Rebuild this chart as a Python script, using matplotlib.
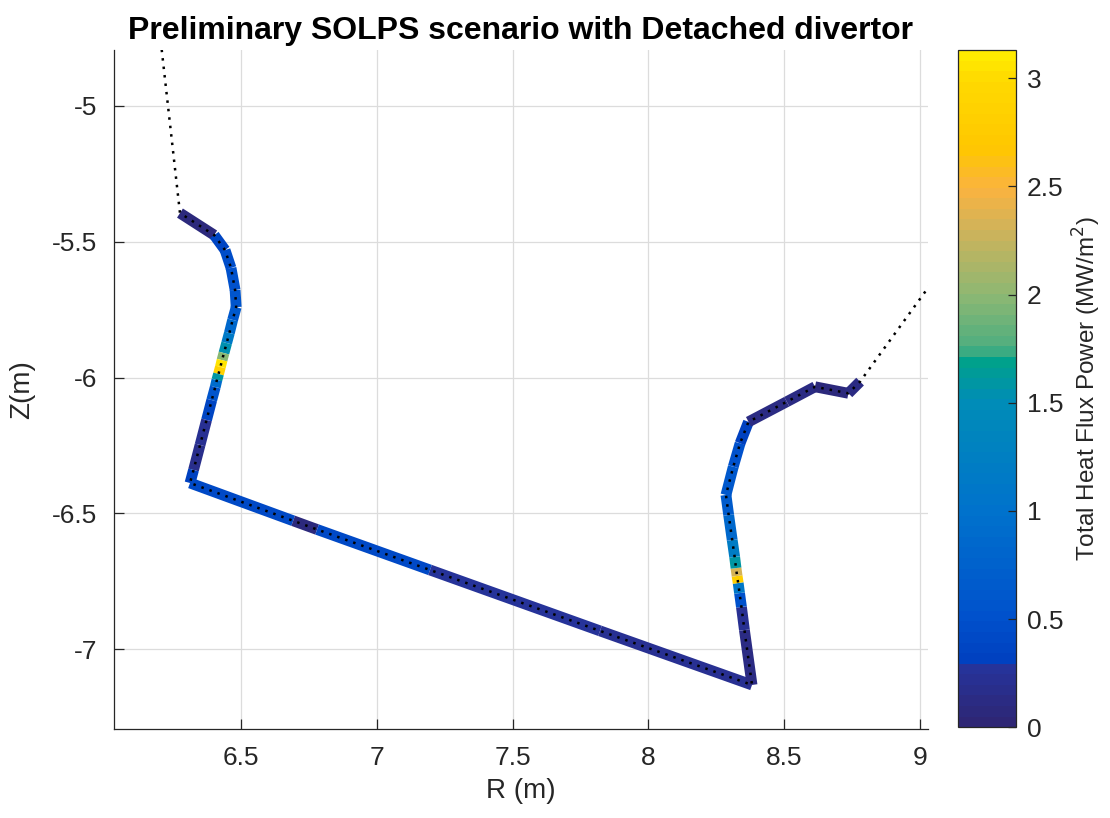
import numpy as np
import matplotlib
matplotlib.use('Agg')
import matplotlib.pyplot as plt
from matplotlib.collections import LineCollection
from matplotlib.colors import LinearSegmentedColormap, Normalize

plt.rcParams['font.family'] = ['Liberation Sans', 'DejaVu Sans']

# wall contour of the divertor (m)
R = [6.275, 6.401, 6.441, 6.463, 6.478, 6.482, 6.469, 6.457, 6.447, 6.437,
     6.430, 6.424, 6.417, 6.411, 6.405, 6.392, 6.373, 6.349, 6.325, 6.312,
     6.692, 6.780, 7.196, 7.822, 8.382, 8.354, 8.343, 8.336, 8.331, 8.327,
     8.323, 8.318, 8.309, 8.296, 8.286, 8.313, 8.338, 8.369, 8.510, 8.614,
     8.737, 8.780]
Z = [-5.395, -5.476, -5.531, -5.597, -5.678, -5.741, -5.788, -5.836, -5.873, -5.910,
     -5.936, -5.961, -5.987, -6.009, -6.035, -6.083, -6.156, -6.248, -6.340, -6.388,
     -6.527, -6.559, -6.708, -6.932, -7.131, -6.929, -6.844, -6.793, -6.756, -6.730,
     -6.701, -6.660, -6.598, -6.506, -6.432, -6.328, -6.242, -6.163, -6.089, -6.034,
     -6.058, -6.015]
# heat flux on each wall segment (MW/m2)
q = [0.05, 0.35, 0.45, 0.5, 0.55, 0.6, 0.85, 1.15, 1.55, 2.0,
     3.05, 2.85, 1.6, 0.9, 0.55, 0.35, 0.2, 0.15, 0.3, 0.4,
     0.05, 0.4, 0.26, 0.2, 0.1, 0.2, 0.5, 1.1, 2.8, 2.3,
     1.6, 1.2, 0.85, 0.65, 0.6, 0.5, 0.3, 0.1, 0.1, 0.08,
     0.1]
# wall continues outside the divertor
R_top, Z_top = 6.186, -4.60
R_out, Z_out = 9.20, -5.436

# parula-like map as it shows in the picture
cm_pos = [0.0, 0.08, 0.09, 0.16, 0.32, 0.48, 0.54, 0.56, 0.64, 0.74, 0.80, 0.86, 0.96, 1.0]
cm_col = [(0.18, 0.15, 0.46), (0.15, 0.20, 0.60), (0.0, 0.25, 0.75), (0.0, 0.32, 0.80),
          (0.0, 0.45, 0.80), (0.0, 0.55, 0.72), (0.0, 0.63, 0.55), (0.30, 0.68, 0.50),
          (0.55, 0.72, 0.45), (0.82, 0.70, 0.35), (0.98, 0.70, 0.25), (1.0, 0.78, 0.0),
          (1.0, 0.85, 0.0), (1.0, 0.92, 0.0)]
parula = LinearSegmentedColormap.from_list('parula', list(zip(cm_pos, cm_col)), N=64)

fig = plt.figure(figsize=(11.1, 8.18), dpi=100)
ax = fig.add_axes([0.1027, 0.1088, 0.7333, 0.8301])

pts = np.column_stack([R, Z])
segs = np.stack([pts[:-1], pts[1:]], axis=1)
norm = Normalize(0, 3.13)
lc = LineCollection(segs, cmap=parula, norm=norm, linewidths=7.8, capstyle='butt', zorder=3)
lc.set_array(np.array(q))
ax.add_collection(lc)

ax.plot([R_top] + R + [R_out], [Z_top] + Z + [Z_out], color='black',
        linestyle=(0, (1, 2.4)), linewidth=1.8, zorder=4)

ax.set_xlim(6.032, 9.03)
ax.set_ylim(-7.293, -4.795)
ax.set_xticks([6.5, 7, 7.5, 8, 8.5, 9])
ax.set_xticklabels(['6.5', '7', '7.5', '8', '8.5', '9'])
ax.set_yticks([-5, -5.5, -6, -6.5, -7])
ax.set_yticklabels(['-5', '-5.5', '-6', '-6.5', '-7'])
ax.grid(True, color='#dcdcdc', linewidth=0.9)
ax.set_axisbelow(True)
for s in ['top', 'right']:
    ax.spines[s].set_visible(False)
for s in ['left', 'bottom']:
    ax.spines[s].set_color('#262626')
    ax.spines[s].set_linewidth(0.9)
ax.tick_params(direction='in', length=7, width=0.9, color='#262626',
               labelsize=19, labelcolor='#262626', pad=12)
ax.set_xlabel('R (m)', fontsize=20, color='#262626', labelpad=6)
ax.set_ylabel('Z(m)', fontsize=20, color='#262626', labelpad=12)
ax.set_title('Preliminary SOLPS scenario with Detached divertor', fontsize=23,
             fontweight='bold', pad=8)

cax = fig.add_axes([0.863, 0.111, 0.052, 0.8276])
cb = fig.colorbar(lc, cax=cax)
cb.set_ticks([0, 0.5, 1, 1.5, 2, 2.5, 3])
cb.set_ticklabels(['0', '0.5', '1', '1.5', '2', '2.5', '3'])
cb.ax.tick_params(direction='in', length=6, width=0.9, color='#262626',
                  labelsize=19, labelcolor='#262626', pad=8)
cb.outline.set_edgecolor('#262626')
cb.outline.set_linewidth(0.9)
cb.set_label('Total Heat Flux Power (MW/m$^2$)', fontsize=17.5, color='#262626', labelpad=5)

fig.savefig('out.png', dpi=100)
